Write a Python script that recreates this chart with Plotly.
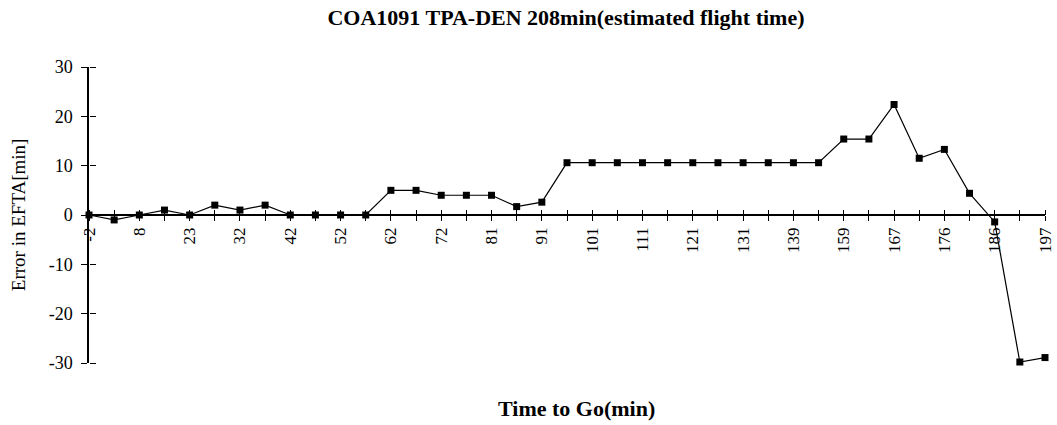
import plotly.graph_objects as go

# Tick labels on every other point (time to go, min)
time_labels = ["-2", "8", "23", "32", "42", "52", "62", "72", "81", "91",
               "101", "111", "121", "131", "139", "159", "167", "176", "186", "197"]

# Error in EFTA [min] at each of the 39 sample points
errors = [0, -1, 0, 1, 0, 2, 1, 2, 0, 0,
          0, 0, 5, 5, 4, 4, 4, 1.7, 2.6, 10.6,
          10.6, 10.6, 10.6, 10.6, 10.6, 10.6, 10.6, 10.6, 10.6, 10.6,
          15.4, 15.4, 22.4, 11.5, 13.3, 4.4, -1.4, -29.8, -28.9]

y_ticks = [-30, -20, -10, 0, 10, 20, 30]
y_tick_labels = ["-30", "-20", "-10", "0", "10", "20", "30"]

x_index = list(range(len(errors)))
tick_text = []
for i in x_index:
    tick_text.append(time_labels[i // 2] if i % 2 == 0 else "")

FONT = "Liberation Serif"
W, H = 1057, 425
L, R, T, B = 89, 2, 67, 62
PW, PH = W - L - R, H - T - B

def px_x(sx):
    return (sx - L) / (1047 - L)

def px_y(sy):
    return (T + PH - sy) / PH

fig = go.Figure()
fig.add_trace(go.Scatter(
    x=x_index, y=errors, mode="lines+markers",
    line=dict(color="black", width=1.2),
    marker=dict(symbol="square", size=7, color="black"),
    cliponaxis=False, showlegend=False,
))
# helper trace so the overlay axes (cross ticks) are drawn
fig.add_trace(go.Scatter(
    x=x_index, y=errors, mode="markers", xaxis="x2", yaxis="y2",
    marker=dict(opacity=0), hoverinfo="skip", showlegend=False,
))

common_x = dict(range=[0, len(errors) - 1], tickmode="array", tickvals=x_index,
                showgrid=False, zeroline=False, ticklen=5, tickwidth=1,
                tickcolor="black")
fig.update_layout(
    width=W, height=H,
    margin=dict(l=L, r=R, t=T, b=B),
    paper_bgcolor="white", plot_bgcolor="white",
    font=dict(family=FONT, color="black", size=14),
    title=dict(text="<b>COA1091 TPA-DEN 208min(estimated flight time)</b>",
               x=px_x(567), xref="paper", xanchor="center",
               y=1 - 17 / H, yref="container", yanchor="middle",
               font=dict(family=FONT, size=22, color="black")),
    xaxis=dict(**common_x, ticktext=tick_text, anchor="free", position=0.5,
               showline=True, linecolor="black", linewidth=1.5,
               ticks="outside", tickangle=-90, ticklabeloverflow="allow",
               tickfont=dict(family=FONT, size=17, color="black")),
    xaxis2=dict(**common_x, overlaying="x", anchor="free", position=0.5,
                side="top", ticks="outside", showticklabels=False,
                showline=False),
    yaxis=dict(range=[-30, 30], tickmode="array", tickvals=y_ticks,
               ticktext=y_tick_labels, ticklabelstandoff=5,
               showgrid=False, zeroline=False, showline=True,
               linecolor="black", linewidth=1.5, ticks="outside", ticklen=6,
               tickwidth=1, tickcolor="black",
               tickfont=dict(family=FONT, size=18, color="black")),
    yaxis2=dict(range=[-30, 30], tickmode="array", tickvals=y_ticks,
                overlaying="y", anchor="free", position=0, side="right",
                showgrid=False, zeroline=False, showline=False,
                ticks="outside", ticklen=6, tickwidth=1, tickcolor="black",
                showticklabels=False),
    annotations=[
        dict(text="<b>Time to Go(min)</b>", x=px_x(578), xref="paper",
             xanchor="center", y=px_y(408), yref="paper",
             yanchor="middle", showarrow=False,
             font=dict(family=FONT, size=22, color="black")),
        dict(text="Error in EFTA[min]", textangle=-90, x=px_x(18),
             xref="paper", xanchor="center", y=px_y(215),
             yref="paper", yanchor="middle", showarrow=False,
             font=dict(family=FONT, size=19, color="black")),
    ],
)

fig.write_html("out.html",
               config={"displayModeBar": False},
               post_script="document.body.style.margin='0';"
                           "document.body.style.overflow='hidden';")
